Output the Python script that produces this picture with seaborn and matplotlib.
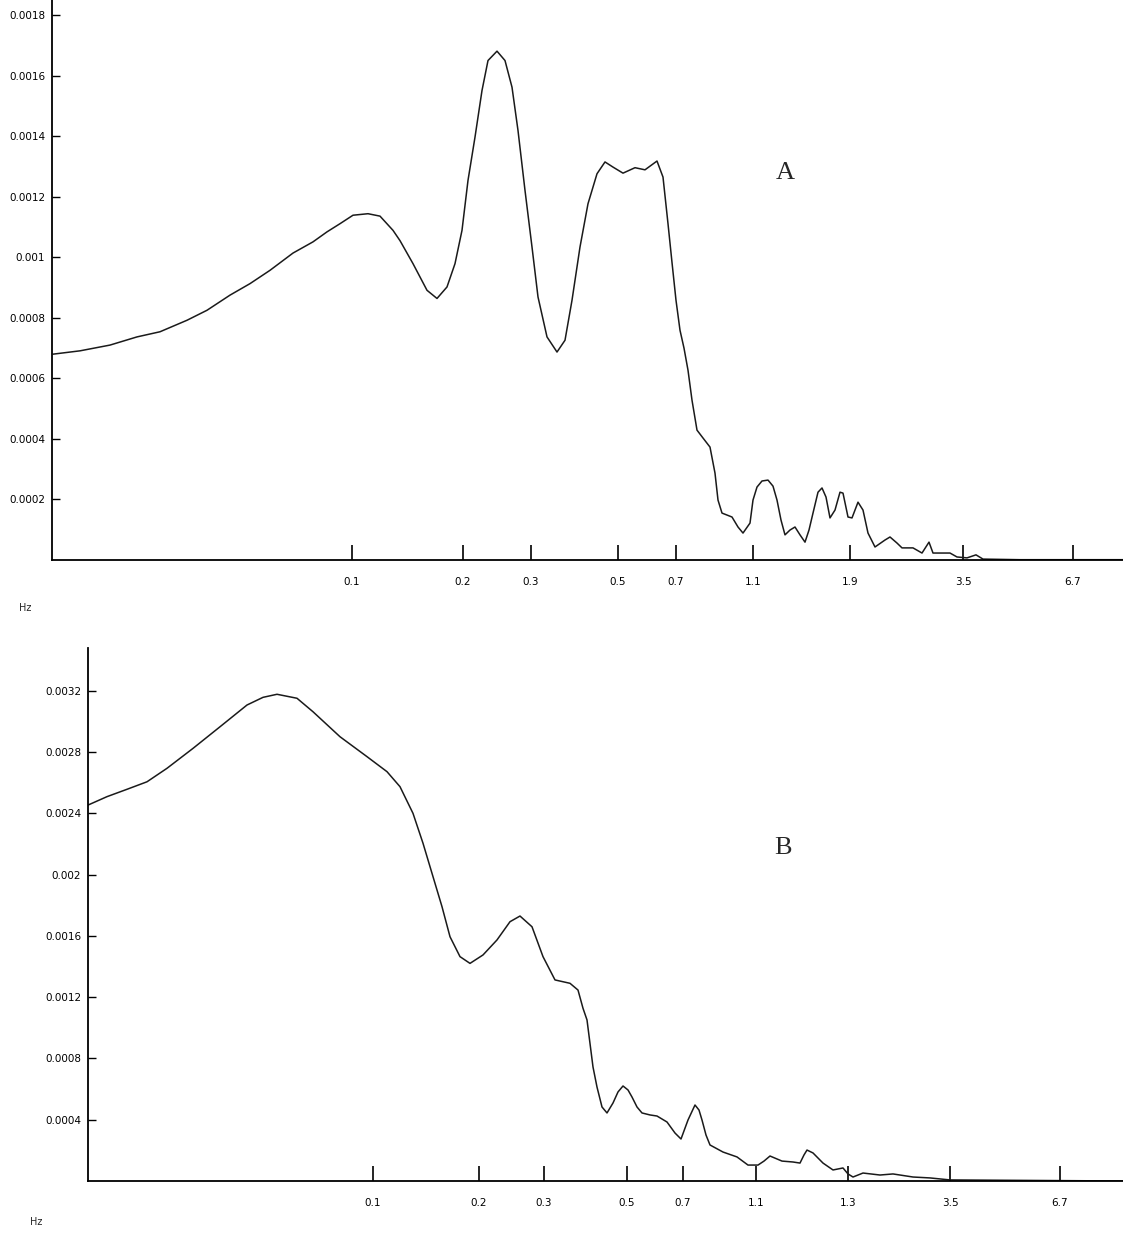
import numpy as np
import pandas as pd
import matplotlib
matplotlib.use("Agg")
import matplotlib.pyplot as plt
import seaborn as sns

# ---------------- data ----------------
# x is the position along the frequency axis (display units of the original plot)
top_pos = [53, 80, 110, 137, 160, 187, 207, 230, 250, 270, 293, 313, 327, 340, 353,
           368, 380, 393, 400, 413, 427, 437, 447, 455, 462, 468, 475, 482, 488, 497,
           505, 512, 518, 525, 532, 538, 547, 557, 565, 572, 580, 588, 597, 605, 613,
           623, 635, 645, 657, 663, 668, 672, 676, 680, 684, 688, 692, 697, 703, 710,
           715, 718, 722, 732, 738, 743, 750, 753, 757, 762, 768, 773, 777, 781, 785,
           790, 795, 800, 805, 809, 813, 818, 822, 826, 830, 835, 840, 843, 848, 852,
           858, 863, 868, 875, 885, 890, 897, 902, 913, 922, 929, 933, 940, 950, 957,
           967, 976, 983, 1020, 1123]
top_psd = [0.000680, 0.000691, 0.000710, 0.000737, 0.000754, 0.000792, 0.000825, 0.000875,
           0.000913, 0.000957, 0.001014, 0.001051, 0.001084, 0.001111, 0.001139, 0.001144,
           0.001136, 0.001089, 0.001055, 0.000979, 0.000891, 0.000864, 0.000902, 0.000979,
           0.001089, 0.001254, 0.001397, 0.001551, 0.001650, 0.001681, 0.001650, 0.001562,
           0.001419, 0.001221, 0.001034, 0.000869, 0.000737, 0.000687, 0.000726, 0.000858,
           0.001034, 0.001177, 0.001276, 0.001315, 0.001298, 0.001278, 0.001296, 0.001289,
           0.001318, 0.001265, 0.001111, 0.000983, 0.000858, 0.000759, 0.000700, 0.000627,
           0.000528, 0.000429, 0.000403, 0.000373, 0.000287, 0.000198, 0.000155, 0.000142,
           0.000109, 0.000089, 0.000122, 0.000198, 0.000241, 0.000261, 0.000264, 0.000244,
           0.000198, 0.000132, 0.000083, 0.000099, 0.000109, 0.000083, 0.000059, 0.000099,
           0.000155, 0.000224, 0.000238, 0.000208, 0.000139, 0.000165, 0.000224, 0.000221,
           0.000142, 0.000139, 0.000191, 0.000165, 0.000089, 0.000043, 0.000066, 0.000076,
           0.000056, 0.000040, 0.000040, 0.000023, 0.000059, 0.000023, 0.000023, 0.000023,
           0.000010, 0.000007, 0.000017, 0.000003, 0.000001, 0.000001]
top_ticks = [352, 463, 531, 618, 676, 753, 850, 963, 1073]
top_tick_labels = ["0.1", "0.2", "0.3", "0.5", "0.7", "1.1", "1.9", "3.5", "6.7"]
top_yticks = [0.0002, 0.0004, 0.0006, 0.0008, 0.0010, 0.0012, 0.0014, 0.0016, 0.0018]
top_ytick_labels = ["0.0002", "0.0004", "0.0006", "0.0008", "0.001", "0.0012",
                    "0.0014", "0.0016", "0.0018"]

bot_pos = [88, 107, 127, 147, 167, 193, 220, 247, 263, 277, 297, 313, 340, 367, 387,
           400, 413, 423, 433, 442, 450, 460, 470, 483, 497, 510, 520, 532, 543, 555,
           570, 578, 583, 587, 593, 597, 602, 607, 613, 618, 623, 628, 632, 637, 642,
           650, 657, 667, 675, 681, 688, 695, 699, 702, 706, 710, 723, 737, 748, 758,
           764, 770, 782, 793, 800, 804, 807, 813, 818, 823, 833, 843, 848, 853, 863,
           880, 893, 913, 930, 950, 1123]
bot_psd = [0.002453, 0.002508, 0.002556, 0.002605, 0.002693, 0.002823, 0.002964, 0.003106,
           0.003156, 0.003176, 0.003150, 0.003062, 0.002899, 0.002769, 0.002671, 0.002573,
           0.002399, 0.002204, 0.001986, 0.001790, 0.001594, 0.001464, 0.001420, 0.001475,
           0.001573, 0.001692, 0.001729, 0.001659, 0.001464, 0.001312, 0.001290, 0.001246,
           0.001127, 0.001051, 0.000744, 0.000613, 0.000483, 0.000444, 0.000509, 0.000581,
           0.000620, 0.000594, 0.000548, 0.000483, 0.000444, 0.000431, 0.000424, 0.000385,
           0.000313, 0.000274, 0.000398, 0.000496, 0.000463, 0.000398, 0.000300, 0.000235,
           0.000189, 0.000157, 0.000104, 0.000104, 0.000130, 0.000163, 0.000130, 0.000124,
           0.000117, 0.000170, 0.000202, 0.000183, 0.000150, 0.000117, 0.000072, 0.000085,
           0.000046, 0.000026, 0.000052, 0.000039, 0.000046, 0.000026, 0.000020, 0.000007,
           0.000000]
bot_ticks = [373, 479, 544, 627, 683, 756, 848, 950, 1060]
bot_tick_labels = ["0.1", "0.2", "0.3", "0.5", "0.7", "1.1", "1.3", "3.5", "6.7"]
bot_yticks = [0.0004, 0.0008, 0.0012, 0.0016, 0.0020, 0.0024, 0.0028, 0.0032]
bot_ytick_labels = ["0.0004", "0.0008", "0.0012", "0.0016", "0.002", "0.0024",
                    "0.0028", "0.0032"]

panel_labels = ["A", "B"]
unit_label = "Hz"

# ---------------- figure ----------------
sns.set_style("ticks")
plt.rcParams["font.family"] = ["DejaVu Sans"]

W, H = 1123, 1237
fig = plt.figure(figsize=(W / 100, H / 100), dpi=100)
fig.patch.set_facecolor("white")

def px_axes(x0, y_top, x1, y_bot):
    return fig.add_axes([x0 / W, 1 - y_bot / H, (x1 - x0) / W, (y_bot - y_top) / H])

ax1 = px_axes(52, 0, 1123, 560)
ax2 = px_axes(88, 648, 1123, 1181)

df_top = pd.DataFrame({"pos": top_pos, "psd": top_psd})
df_bot = pd.DataFrame({"pos": bot_pos, "psd": bot_psd})

for ax, df, xlim, ylim, xt, xtl, yt, ytl in [
    (ax1, df_top, (52, 1123), (0, 0.00185), top_ticks, top_tick_labels, top_yticks, top_ytick_labels),
    (ax2, df_bot, (88, 1123), (0, 0.003478), bot_ticks, bot_tick_labels, bot_yticks, bot_ytick_labels),
]:
    sns.lineplot(data=df, x="pos", y="psd", ax=ax, color="#1a1a1a", linewidth=1.1,
                 sort=False, estimator=None)
    ax.set_xlim(*xlim)
    ax.set_ylim(*ylim)
    ax.set_xticks(xt)
    ax.set_xticklabels(xtl)
    ax.set_yticks(yt)
    ax.set_yticklabels(ytl)
    ax.set_xlabel("")
    ax.set_ylabel("")
    ax.set_facecolor("none")
    for s in ["top", "right"]:
        ax.spines[s].set_visible(False)
    for s in ["left", "bottom"]:
        ax.spines[s].set_color("black")
        ax.spines[s].set_linewidth(1.3)
    ax.tick_params(axis="x", direction="in", length=11, width=1.2, pad=12,
                   labelsize=7.5, colors="black")
    ax.tick_params(axis="y", direction="in", length=6, width=1.0, pad=5,
                   labelsize=7.5, colors="black")
    ax.grid(False)

ax1.text(785, 0.00128, panel_labels[0], fontsize=19, family="Liberation Serif",
         ha="center", va="center")
ax2.text(783, 0.00217, panel_labels[1], fontsize=19, family="Liberation Serif",
         ha="center", va="center")

fig.text(25 / W, 1 - 608 / H, unit_label, fontsize=7, ha="center", va="center")
fig.text(36 / W, 1 - 1222 / H, unit_label, fontsize=7, ha="center", va="center")

fig.savefig("out.png", dpi=100, facecolor="white")
